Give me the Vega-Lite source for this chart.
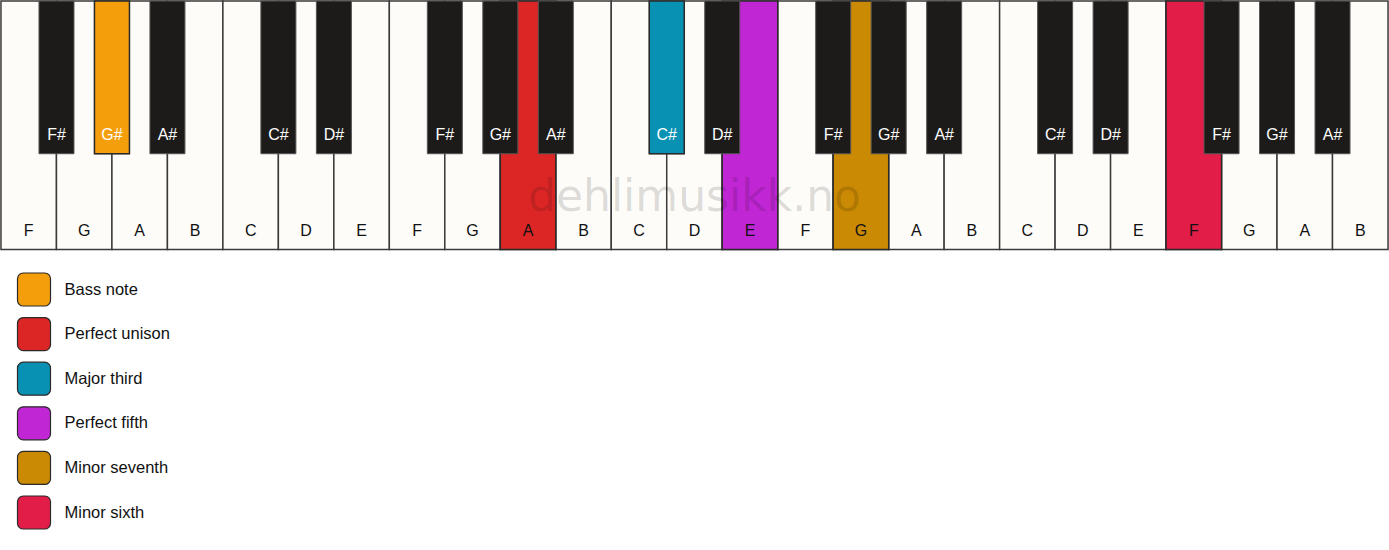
{
  "$schema": "https://vega.github.io/schema/vega-lite/v6.json",
  "description": "Piano keyboard showing the intervals of a chord built on G#.",
  "background": "#ffffff",
  "padding": 0,
  "autosize": {"type": "fit", "contains": "padding"},
  "width": 1389,
  "height": 550,
  "datasets": {
    "white": [
      {"note": "F", "pos": 0.5, "role": null},
      {"note": "G", "pos": 1.5, "role": null},
      {"note": "A", "pos": 2.5, "role": null},
      {"note": "B", "pos": 3.5, "role": null},
      {"note": "C", "pos": 4.5, "role": null},
      {"note": "D", "pos": 5.5, "role": null},
      {"note": "E", "pos": 6.5, "role": null},
      {"note": "F", "pos": 7.5, "role": null},
      {"note": "G", "pos": 8.5, "role": null},
      {"note": "A", "pos": 9.5, "role": "Perfect unison"},
      {"note": "B", "pos": 10.5, "role": null},
      {"note": "C", "pos": 11.5, "role": null},
      {"note": "D", "pos": 12.5, "role": null},
      {"note": "E", "pos": 13.5, "role": "Perfect fifth"},
      {"note": "F", "pos": 14.5, "role": null},
      {"note": "G", "pos": 15.5, "role": "Minor seventh"},
      {"note": "A", "pos": 16.5, "role": null},
      {"note": "B", "pos": 17.5, "role": null},
      {"note": "C", "pos": 18.5, "role": null},
      {"note": "D", "pos": 19.5, "role": null},
      {"note": "E", "pos": 20.5, "role": null},
      {"note": "F", "pos": 21.5, "role": "Minor sixth"},
      {"note": "G", "pos": 22.5, "role": null},
      {"note": "A", "pos": 23.5, "role": null},
      {"note": "B", "pos": 24.5, "role": null}
    ],
    "black": [
      {"note": "F#", "pos": 1, "role": null},
      {"note": "G#", "pos": 2, "role": "Bass note"},
      {"note": "A#", "pos": 3, "role": null},
      {"note": "C#", "pos": 5, "role": null},
      {"note": "D#", "pos": 6, "role": null},
      {"note": "F#", "pos": 8, "role": null},
      {"note": "G#", "pos": 9, "role": null},
      {"note": "A#", "pos": 10, "role": null},
      {"note": "C#", "pos": 12, "role": "Major third"},
      {"note": "D#", "pos": 13, "role": null},
      {"note": "F#", "pos": 15, "role": null},
      {"note": "G#", "pos": 16, "role": null},
      {"note": "A#", "pos": 17, "role": null},
      {"note": "C#", "pos": 19, "role": null},
      {"note": "D#", "pos": 20, "role": null},
      {"note": "F#", "pos": 22, "role": null},
      {"note": "G#", "pos": 23, "role": null},
      {"note": "A#", "pos": 24, "role": null}
    ],
    "watermark": [
      {"label": "dehlimusikk.no", "pos": 12.5}
    ]
  },
  "layer": [
    {
      "data": {"name": "white"},
      "mark": {"type": "bar", "width": 55.56, "fill": "#fdfcf9", "stroke": "#3a3a3a", "strokeWidth": 1.5},
      "encoding": {
        "x": {
          "field": "pos",
          "type": "quantitative",
          "scale": {"domain": [0, 25], "nice": false, "zero": false, "padding": 0},
          "axis": null
        },
        "y": {"datum": 0, "type": "quantitative", "scale": {"domain": [0, 2.2], "reverse": true, "nice": false, "zero": false, "padding": 0}, "axis": null},
        "y2": {"datum": 0.996}
      }
    },
    {
      "data": {"name": "white"},
      "transform": [{"filter": "datum.role != null"}],
      "mark": {"type": "bar", "width": 55.56, "stroke": "#2a2a2a", "strokeWidth": 1.5, "opacity": 1},
      "encoding": {
        "x": {"field": "pos", "type": "quantitative"},
        "y": {"datum": 0, "type": "quantitative"},
        "y2": {"datum": 0.996},
        "color": {
          "field": "role",
          "type": "nominal",
          "scale": {
            "domain": ["Bass note", "Perfect unison", "Major third", "Perfect fifth", "Minor seventh", "Minor sixth"],
            "range": ["#f59e0b", "#dc2626", "#0891b2", "#c026d3", "#ca8a04", "#e11d48"]
          },
          "legend": {
            "orient": "none",
            "legendX": 15.5,
            "legendY": 271,
            "title": null,
            "padding": 0,
            "symbolType": "M-0.65,-1H0.65A0.35,0.35 0 0 1 1,-0.65V0.65A0.35,0.35 0 0 1 0.65,1H-0.65A0.35,0.35 0 0 1 -1,0.65V-0.65A0.35,0.35 0 0 1 -0.65,-1Z",
            "symbolSize": 1089,
            "symbolStrokeColor": "#2b2b2b",
            "symbolStrokeWidth": 1.2,
            "symbolOpacity": 1,
            "labelFont": "Liberation Sans",
            "labelFontSize": 16.5,
            "labelColor": "#111111",
            "labelOffset": 13,
            "labelLimit": 300,
            "rowPadding": 5.6
          }
        }
      }
    },
    {
      "data": {"name": "black"},
      "mark": {"type": "bar", "width": 35, "fill": "#1c1b1a", "stroke": "#555555", "strokeWidth": 1},
      "encoding": {
        "x": {"field": "pos", "type": "quantitative"},
        "y": {"datum": 0, "type": "quantitative"},
        "y2": {"datum": 0.612}
      }
    },
    {
      "data": {"name": "black"},
      "transform": [{"filter": "datum.role != null"}],
      "mark": {"type": "bar", "width": 35, "stroke": "#2a2a2a", "strokeWidth": 1.5, "opacity": 1},
      "encoding": {
        "x": {"field": "pos", "type": "quantitative"},
        "y": {"datum": 0, "type": "quantitative"},
        "y2": {"datum": 0.612},
        "color": {"field": "role", "type": "nominal"}
      }
    },
    {
      "data": {"name": "white"},
      "mark": {"type": "text", "font": "Liberation Sans", "fontSize": 16, "fill": "#111111", "baseline": "alphabetic", "align": "center"},
      "encoding": {
        "x": {"field": "pos", "type": "quantitative"},
        "y": {"datum": 0.94, "type": "quantitative"},
        "text": {"field": "note"}
      }
    },
    {
      "data": {"name": "black"},
      "mark": {"type": "text", "font": "Liberation Sans", "fontSize": 16, "fill": "#ffffff", "baseline": "alphabetic", "align": "center"},
      "encoding": {
        "x": {"field": "pos", "type": "quantitative"},
        "y": {"datum": 0.556, "type": "quantitative"},
        "text": {"field": "note"}
      }
    },
    {
      "data": {"name": "watermark"},
      "mark": {"type": "text", "font": "DejaVu Sans", "fontSize": 44, "fill": "#000000", "fillOpacity": 0.14, "baseline": "alphabetic", "align": "center"},
      "encoding": {
        "x": {"field": "pos", "type": "quantitative"},
        "y": {"datum": 0.84, "type": "quantitative"},
        "text": {"field": "label"}
      }
    }
  ],
  "config": {
    "view": {"stroke": null}
  }
}
